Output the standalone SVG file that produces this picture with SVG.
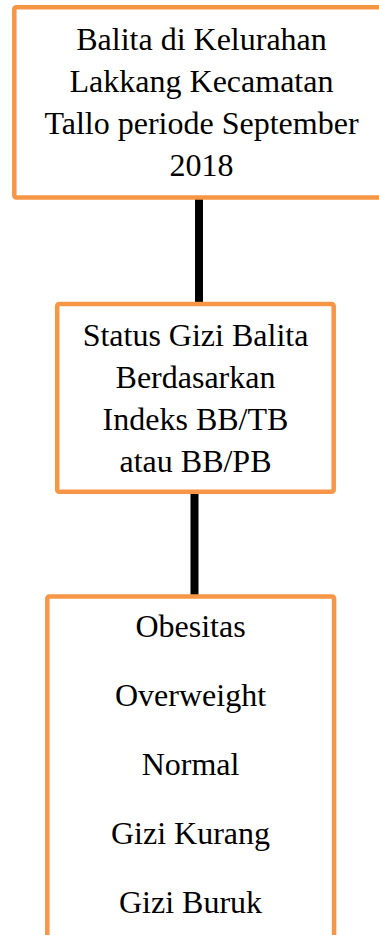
<svg xmlns="http://www.w3.org/2000/svg" width="379" height="935" viewBox="0 0 379 935">
  <style>
    .box { fill: #ffffff; stroke: #F79646; stroke-width: 4.5; }
    .t { font-size: 32px; fill: #000000; text-anchor: middle; }
    .conn { stroke: #000000; stroke-width: 8; fill: none; }
  </style>
  <rect width="379" height="935" fill="#ffffff"/>
  <g id="connectors">
    <line class="conn" x1="199" y1="199" x2="199" y2="303"/>
    <line class="conn" x1="194.5" y1="493" x2="194.5" y2="595"/>
  </g>
  <g font-family="'Liberation Serif', 'Times New Roman', Times, 'DejaVu Serif', serif">
  <g id="node1">
    <rect class="box" x="14.3" y="7.3" width="420" height="190.2" rx="2"/>
    <text class="t" x="201.5" y="50">Balita di Kelurahan</text>
    <text class="t" x="201.5" y="92">Lakkang Kecamatan</text>
    <text class="t" x="201.5" y="134">Tallo periode September</text>
    <text class="t" x="201.5" y="176">2018</text>
  </g>
  <g id="node2">
    <rect class="box" x="57.2" y="304" width="276.5" height="187.8" rx="2"/>
    <text class="t" x="195.5" y="346">Status Gizi Balita</text>
    <text class="t" x="195.5" y="388">Berdasarkan</text>
    <text class="t" x="195.5" y="430">Indeks BB/TB</text>
    <text class="t" x="195.5" y="472">atau BB/PB</text>
  </g>
  <g id="node3">
    <rect class="box" x="47.3" y="596.5" width="286.8" height="400" rx="2"/>
    <text class="t" x="190.5" y="637">Obesitas</text>
    <text class="t" x="190.5" y="706">Overweight</text>
    <text class="t" x="190.5" y="775">Normal</text>
    <text class="t" x="190.5" y="844">Gizi Kurang</text>
    <text class="t" x="190.5" y="913">Gizi Buruk</text>
  </g>
  </g>
</svg>
